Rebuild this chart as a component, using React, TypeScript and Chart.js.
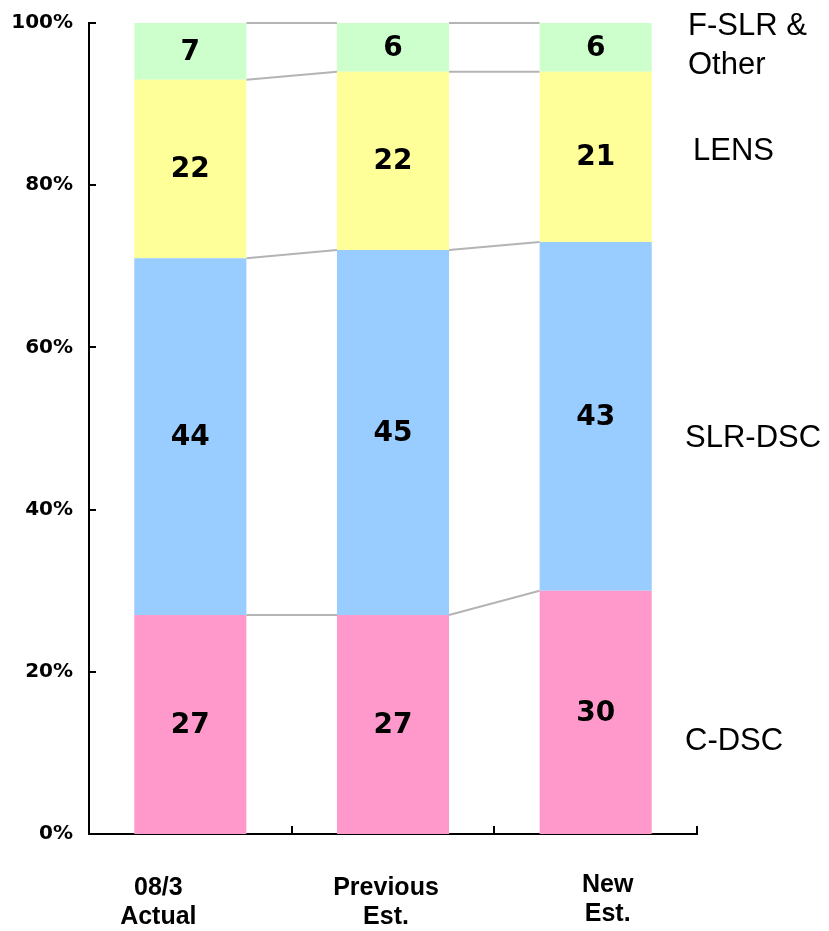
import React, { useEffect, useRef } from "react";
import { Chart, registerables } from "chart.js";

Chart.register(...registerables);

const categories: string[][] = [["08/3", "Actual"], ["Previous", "Est."], ["New", "Est."]];
const seriesNames: string[][] = [["C-DSC"], ["SLR-DSC"], ["LENS"], ["F-SLR &", "Other"]];
const cDsc = [27, 27, 30];
const slrDsc = [44, 45, 43];
const lens = [22, 22, 21];
const fSlrOther = [7, 6, 6];
const yTicks = [0, 20, 40, 60, 80, 100];

// styling / placement (not data)
const COLORS = ["#FF99CC", "#99CCFF", "#FFFF99", "#CCFFCC"];
const CAT_LABEL_DX = [-32, -7, 12];
const CAT_LABEL_DY = [0, 0, -3];
const SERIES_LABEL_X = [685, 685, 693, 688];
const SERIES_LABEL_Y = [741, 438, 151, 26];

export default function App() {
  const ref = useRef<HTMLCanvasElement | null>(null);

  useEffect(() => {
    if (!ref.current) return;
    const series = [cDsc, slrDsc, lens, fSlrOther];

    const overlay = {
      id: "overlay",
      beforeDatasetsDraw(chart: any) {
        const ctx = chart.ctx;
        const y = chart.scales.y;
        ctx.save();
        ctx.strokeStyle = "#B4B4B4";
        ctx.lineWidth = 2;
        const metas = series.map((_, i) => chart.getDatasetMeta(i));
        for (let c = 0; c < categories.length - 1; c++) {
          let cumA = 0;
          let cumB = 0;
          for (let s = 0; s < series.length; s++) {
            cumA += series[s][c];
            cumB += series[s][c + 1];
            const a = metas[s].data[c];
            const b = metas[s].data[c + 1];
            const xa = a.x + a.width / 2;
            const xb = b.x - b.width / 2;
            ctx.beginPath();
            ctx.moveTo(xa, y.getPixelForValue(cumA));
            ctx.lineTo(xb, y.getPixelForValue(cumB));
            ctx.stroke();
          }
        }
        ctx.restore();
      },
      afterDraw(chart: any) {
        const ctx = chart.ctx;
        const x = chart.scales.x;
        const y = chart.scales.y;
        const area = chart.chartArea;
        ctx.save();
        // tick marks inward
        ctx.strokeStyle = "#000";
        ctx.lineWidth = 2;
        yTicks.forEach((t) => {
          const py = Math.round(y.getPixelForValue(t));
          ctx.beginPath();
          ctx.moveTo(area.left, py);
          ctx.lineTo(area.left + 7, py);
          ctx.stroke();
        });
        const n = categories.length;
        for (let i = 1; i <= n; i++) {
          const px = Math.round(x.getPixelForValue(i - 0.5));
          ctx.beginPath();
          ctx.moveTo(px, area.bottom);
          ctx.lineTo(px, area.bottom - 8);
          ctx.stroke();
        }
        // value labels
        ctx.fillStyle = "#000";
        ctx.font = "bold 28px 'DejaVu Sans'";
        ctx.textAlign = "center";
        ctx.textBaseline = "middle";
        series.forEach((vals, s) => {
          const meta = chart.getDatasetMeta(s);
          vals.forEach((v, c) => {
            const el = meta.data[c];
            ctx.fillText(String(v), el.x, (el.y + el.base) / 2 + 1);
          });
        });
        // category labels
        ctx.font = "bold 25px 'Liberation Sans', Arial, sans-serif";
        categories.forEach((lines, c) => {
          const cx = x.getPixelForValue(c) + CAT_LABEL_DX[c];
          lines.forEach((ln, k) => {
            ctx.fillText(ln, cx, 888 + CAT_LABEL_DY[c] + k * 29);
          });
        });
        // series labels on the right
        ctx.font = "31px 'Liberation Sans', Arial, sans-serif";
        ctx.textAlign = "left";
        seriesNames.forEach((lines, s) => {
          lines.forEach((ln, k) => {
            ctx.fillText(ln, SERIES_LABEL_X[s], SERIES_LABEL_Y[s] + k * 39);
          });
        });
        ctx.restore();
      },
    };

    const chart = new Chart(ref.current, {
      type: "bar",
      data: {
        labels: categories.map((c) => c.join(" ")),
        datasets: series.map((vals, i) => ({
          label: seriesNames[i].join(" "),
          data: vals,
          backgroundColor: COLORS[i],
          borderWidth: 0,
          barPercentage: 0.553,
          categoryPercentage: 1,
        })),
      },
      options: {
        responsive: false,
        animation: false,
        layout: { padding: { top: 23, right: 132, left: 0, bottom: 0 } },
        plugins: { legend: { display: false }, tooltip: { enabled: false } },
        scales: {
          x: {
            stacked: true,
            grid: { display: false, drawTicks: false },
            border: { display: true, color: "#000", width: 2 },
            ticks: { display: false },
            afterFit: (s: any) => {
              s.height = 97;
              s.paddingLeft = 0;
              s.paddingRight = 0;
            },
          },
          y: {
            stacked: true,
            min: 0,
            max: 100,
            grid: { display: false, drawTicks: false },
            border: { display: true, color: "#000", width: 2 },
            ticks: {
              stepSize: 20,
              padding: 16,
              color: "#000",
              font: { family: "'DejaVu Sans'", weight: "bold", size: 20 },
              callback: (v: any) => v + "%",
            },
            afterFit: (s: any) => {
              s.width = 89;
              s.paddingTop = 0;
              s.paddingBottom = 0;
            },
          },
        },
      },
      plugins: [overlay],
    });
    return () => chart.destroy();
  }, []);

  return (
    <div style={{ position: "absolute", left: 0, top: 0, width: 829, height: 931, background: "#fff" }}>
      <canvas ref={ref} width={829} height={931} />
    </div>
  );
}
